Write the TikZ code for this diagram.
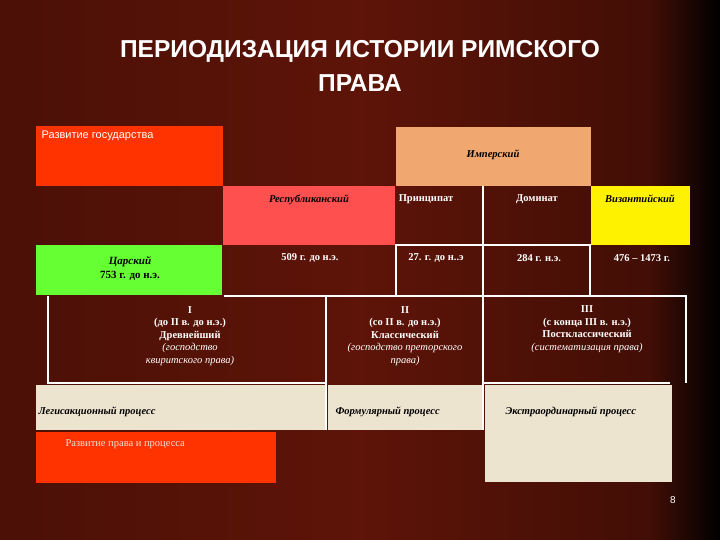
\documentclass[tikz,border=0pt]{standalone}
\usepackage{fontspec}
\setmainfont{Liberation Serif}
\newfontfamily\titlefont{Liberation Sans}
\begin{document}
\begin{tikzpicture}[x=1pt,y=-1pt,
 wl/.style={draw=white,line width=2.5pt},
 tw/.style={text=white,font=\fontsize{10.5}{12.5}\selectfont,align=center},
 tb/.style={text=black,font=\fontsize{10.5}{12.5}\selectfont\bfseries\itshape,align=center}]
\definecolor{bgred}{HTML}{5E1408}
\definecolor{stred}{HTML}{FF3300}
\definecolor{peach}{HTML}{F0A870}
\definecolor{salmon}{HTML}{FF5050}
\definecolor{lgreen}{HTML}{66FF33}
\definecolor{beige}{HTML}{EDE4D0}
\useasboundingbox (0,0) rectangle (720,540);
\shade[left color=bgred!80!black,right color=bgred] (0,0) rectangle (360,540);
\shade[left color=bgred,right color=bgred!70!black] (360,0) rectangle (650,540);
\shade[left color=bgred!70!black,right color=black] (650,0) rectangle (720,540);
\node[text=white,font=\titlefont\bfseries\fontsize{24.5}{34}\selectfont,align=center] (title) at (360,66) {ПЕРИОДИЗАЦИЯ ИСТОРИИ РИМСКОГО\\ПРАВА};
% top blocks
\fill[stred] (36,126) rectangle (223,186);
\node[anchor=north west,text=white,font=\titlefont\fontsize{11}{13}\selectfont] (razv) at (38,127) {Развитие государства};
\fill[peach] (396,127) rectangle (591,186);
\node[tb] (imp) at (493,155) {Имперский};
\fill[salmon] (223,186) rectangle (395,245);
\node[tb] (resp) at (309,200) {Республиканский};
\node[tw,font=\fontsize{10.5}{12.5}\selectfont\bfseries] (princ) at (426,199) {Принципат};
\node[tw,font=\fontsize{10.5}{12.5}\selectfont\bfseries] (dom) at (537,199) {Доминат};
\fill[yellow] (591,186) rectangle (690,245);
\node[tb] (viz) at (640,199) {Византийский};
\fill[lgreen] (36,245) rectangle (222,295);
\node[tb,font=\fontsize{11}{14}\selectfont] (car) at (130,268) {\textbf{\textit{Царский}}\\\textbf{753 г. до н.э.}};
\node[tw,font=\fontsize{10.5}{12.5}\selectfont\bfseries] (d1) at (310,258) {509 г. до н.э.};
\node[tw,font=\fontsize{10.5}{12.5}\selectfont\bfseries] (d2) at (436,258) {27. г. до н..э};
\node[tw,font=\fontsize{10.5}{12.5}\selectfont\bfseries] (d3) at (539,258) {284 г. н.э.};
\node[tw,font=\fontsize{10.5}{12.5}\selectfont\bfseries] (d4) at (642,258) {476 – 1473 г.};
% white lines
\draw[wl] (483,186) -- (483,430);
\draw[wl] (396,295) -- (396,245) -- (590,245) -- (590,295);
\draw[wl] (224,296) -- (686,296) -- (686,383);
\draw[wl] (48,296) -- (48,383) -- (326,383);
\draw[wl] (326,296) -- (326,430);
\draw[wl] (483,383) -- (670,383);
% periods
\node[tw] (p1) at (190,336) {\textbf{I}\\\textbf{(до II в. до н.э.)}\\\textbf{Древнейший}\\\textit{(господство}\\\textit{квиритского права)}};
\node[tw] (p2) at (405,336) {\textbf{II}\\\textbf{(со II в. до н.э.)}\\\textbf{Классический}\\\textit{(господство преторского}\\\textit{права)}};
\node[tw] (p3) at (587,329) {\textbf{III}\\\textbf{(с конца III в. н.э.)}\\\textbf{Постклассический}\\\textit{(систематизация права)}};
% bottom
\fill[beige] (36,385) rectangle (325,430);
\fill[beige] (328,385) rectangle (482,430);
\fill[beige] (485,385) rectangle (672,482);
\node[tb,anchor=west] (leg) at (35,412) {Легисакционный процесс};
\node[tb,anchor=west] (form) at (332,412) {Формулярный процесс};
\node[tb,anchor=west] (extr) at (502,412) {Экстраординарный процесс};
\fill[stred] (36,432) rectangle (276,483);
\node[tw,anchor=west,text=beige] (rpp) at (62,444) {Развитие права и процесса};
\node[text=white,font=\titlefont\fontsize{10}{12}\selectfont] (pg) at (673,500) {8};
\end{tikzpicture}
\end{document}
